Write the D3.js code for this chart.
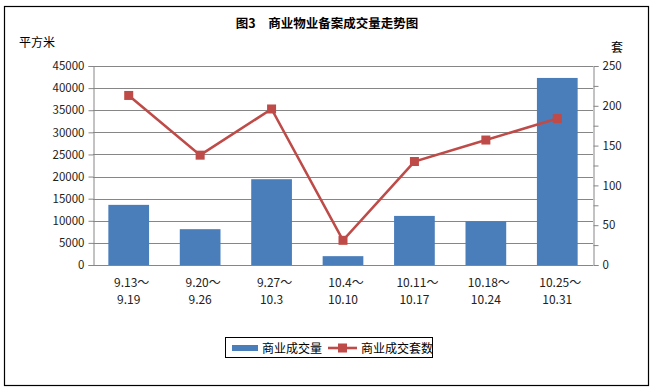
<!DOCTYPE html>
<html><head><meta charset="utf-8">
<script src="https://cdn.jsdelivr.net/npm/d3@7/dist/d3.min.js"></script>
<style>body{margin:0;background:#fff}svg{display:block}text{font-family:"Noto Sans CJK SC","DejaVu Sans",sans-serif}</style>
</head><body>
<svg id="c" width="653" height="390"></svg>
<script>
const categories = ["9.13～|9.19","9.20～|9.26","9.27～|10.3","10.4～|10.10","10.11～|10.17","10.18～|10.24","10.25～|10.31"];
const areaValues = [13600, 8100, 19400, 2000, 11100, 9900, 42300];
const unitValues = [213, 138, 196, 31, 130, 157, 184];
const leftTicks = [0,5000,10000,15000,20000,25000,30000,35000,40000,45000];
const rightTicks = [0,50,100,150,200,250];
const title = "图3　商业物业备案成交量走势图";
const seriesNames = ["商业成交量","商业成交套数"];

const svg = d3.select("#c");
const L=93, R=593, T=66, B=265;
svg.append("rect").attr("x",4.5).attr("y",6.5).attr("width",644).attr("height",379).attr("fill","#fff").attr("stroke","#000").attr("stroke-width",1.2);

const x = d3.scaleBand().domain(categories).range([L,R]).paddingInner(0.43).paddingOuter(0.215);
const yL = d3.scaleLinear().domain([0,45000]).range([B,T]);
const yR = d3.scaleLinear().domain([0,250]).range([B,T]);

// gridlines
svg.append("g").selectAll("line").data(leftTicks).join("line")
  .attr("x1",L).attr("x2",R).attr("y1",d=>Math.round(yL(d))+0.5).attr("y2",d=>Math.round(yL(d))+0.5)
  .attr("stroke","#868686").attr("stroke-width",1);

// left axis
const gl = svg.append("g").attr("transform",`translate(${L+0.5},0)`)
  .call(d3.axisLeft(yL).tickValues(leftTicks).tickSize(5).tickPadding(4).tickFormat(d3.format("d")));
gl.select(".domain").attr("stroke","#868686");
gl.selectAll(".tick line").attr("stroke","#868686");
gl.selectAll("text").attr("font-size",12).attr("fill","#222").attr("font-family","'DejaVu Sans',sans-serif").style("font-size","11.5px");

// right axis (minor ticks every 25)
const gr = svg.append("g").attr("transform",`translate(${R+0.5},0)`)
  .call(d3.axisRight(yR).tickValues(d3.range(0,251,25)).tickSize(5).tickPadding(4).tickFormat(d=>rightTicks.includes(d)?d:""));
gr.select(".domain").attr("stroke","#868686");
gr.selectAll(".tick line").attr("stroke","#868686");
gr.selectAll("text").attr("fill","#222").attr("font-family","'DejaVu Sans',sans-serif").style("font-size","11.5px");

// bars
svg.append("g").selectAll("rect").data(areaValues).join("rect")
  .attr("x",(d,i)=>x(categories[i])).attr("width",x.bandwidth())
  .attr("y",d=>yL(d)).attr("height",d=>B-yL(d)).attr("fill","#4a7ebb");

// line
const cx = (i)=>x(categories[i])+x.bandwidth()/2;
svg.append("path").datum(unitValues)
  .attr("d",d3.line().x((d,i)=>cx(i)).y(d=>yR(d)))
  .attr("fill","none").attr("stroke","#be4b48").attr("stroke-width",2.6);
svg.append("g").selectAll("rect").data(unitValues).join("rect")
  .attr("x",(d,i)=>cx(i)-4.5).attr("y",d=>yR(d)-4.5).attr("width",9).attr("height",9).attr("fill","#be4b48");

// x labels
const xl = svg.append("g");
categories.forEach((c,i)=>{
  const parts=c.split("|");
  const t = xl.append("text").attr("x",cx(i)).attr("text-anchor","middle").attr("font-size",12).attr("fill","#222");
  t.append("tspan").attr("x",cx(i)+3).attr("y",287).text(parts[0]);
  t.append("tspan").attr("x",cx(i)).attr("y",304).text(parts[1]);
});

// title and units
svg.append("text").attr("x",327).attr("y",28).attr("text-anchor","middle").attr("font-size",12.5).attr("font-weight","bold").attr("fill","#000").text(title);
svg.append("text").attr("x",19).attr("y",47).attr("font-size",12).attr("fill","#000").text("平方米");
svg.append("text").attr("x",611).attr("y",52).attr("font-size",12).attr("fill","#000").text("套");

// legend
const lg = svg.append("g");
lg.append("rect").attr("x",225.5).attr("y",337.5).attr("width",207).attr("height",20).attr("fill","#fff").attr("stroke","#000");
lg.append("rect").attr("x",232).attr("y",345).attr("width",26).attr("height",6).attr("fill","#4a7ebb");
lg.append("text").attr("x",262).attr("y",352.5).attr("font-size",12).attr("fill","#000").text(seriesNames[0]);
lg.append("line").attr("x1",328).attr("x2",357).attr("y1",348).attr("y2",348).attr("stroke","#be4b48").attr("stroke-width",2.6);
lg.append("rect").attr("x",338).attr("y",343.5).attr("width",9).attr("height",9).attr("fill","#be4b48");
lg.append("text").attr("x",361).attr("y",352.5).attr("font-size",12).attr("fill","#000").text(seriesNames[1]);
</script>
</body></html>
